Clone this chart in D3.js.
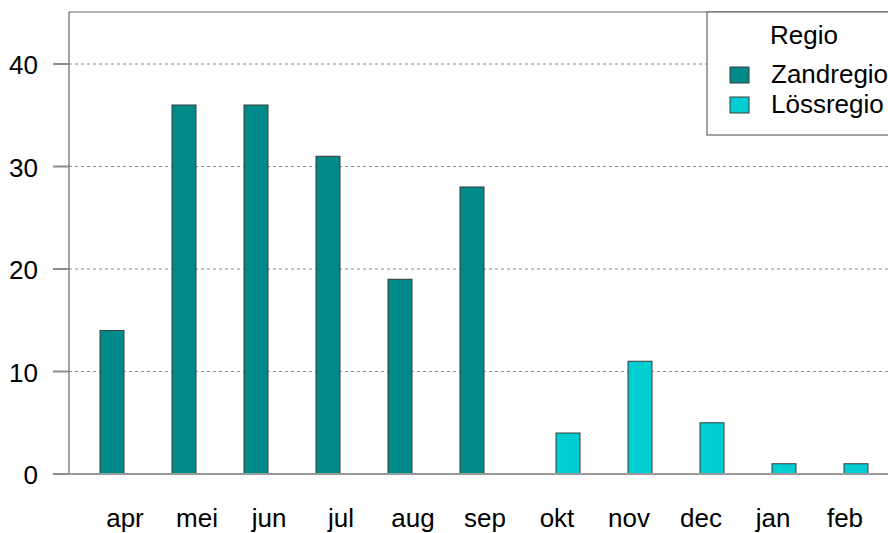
<!DOCTYPE html>
<html>
<head>
<meta charset="utf-8">
<script src="https://cdn.jsdelivr.net/npm/d3@7"></script>
<style>
  body { margin: 0; background: #fff; }
  svg { display: block; font-family: "Liberation Sans", Arial, sans-serif; }
</style>
</head>
<body>
<svg id="chart" width="888" height="533"></svg>
<script>
// data
var months = ["apr", "mei", "jun", "jul", "aug", "sep", "okt", "nov", "dec", "jan", "feb"];
var seriesNames = ["Zandregio", "Lössregio"];
var zandregio = [14, 36, 36, 31, 19, 28, null, null, null, null, null];
var lossregio = [null, null, null, null, null, null, 4, 11, 5, 1, 1];
var seriesColors = ["#008b8b", "#00ced1"];
var yTicks = [0, 10, 20, 30, 40];

var width = 888, height = 533;
var plotLeft = 69, plotTop = 12, plotBottom = 474;
var fontSize = "26px";

var svg = d3.select("#chart");

// Scales
var y = d3.scaleLinear().domain([0, 40]).range([plotBottom, 64]);
var x = d3.scaleBand().domain(months).range([88, 880]).padding(0);
var xInner = d3.scaleBand().domain(seriesNames).range([0, x.bandwidth()])
    .paddingInner(0).paddingOuter(0.5);

// Grid lines
svg.append("g")
    .selectAll("line")
    .data(yTicks.filter(function (d) { return d > 0; }))
    .enter()
    .append("line")
    .attr("x1", plotLeft)
    .attr("x2", width + 5)
    .attr("y1", function (d) { return y(d); })
    .attr("y2", function (d) { return y(d); })
    .attr("stroke", "#8c8c8c")
    .attr("stroke-width", 1)
    .attr("stroke-dasharray", "3,3");

// Plot frame (left + top)
svg.append("line")
    .attr("x1", plotLeft).attr("x2", plotLeft)
    .attr("y1", plotTop).attr("y2", plotBottom)
    .attr("stroke", "#666").attr("stroke-width", 1.2);
svg.append("line")
    .attr("x1", plotLeft).attr("x2", width + 5)
    .attr("y1", plotTop).attr("y2", plotTop)
    .attr("stroke", "#666").attr("stroke-width", 1.2);

// Bars
var rows = [];
months.forEach(function (m, i) {
    [zandregio, lossregio].forEach(function (arr, s) {
        if (arr[i] !== null) rows.push({ month: m, series: seriesNames[s], value: arr[i], color: seriesColors[s] });
    });
});

svg.append("g")
    .selectAll("rect")
    .data(rows)
    .enter()
    .append("rect")
    .attr("x", function (d) { return x(d.month) + xInner(d.series); })
    .attr("y", function (d) { return y(d.value); })
    .attr("width", xInner.bandwidth())
    .attr("height", function (d) { return y(0) - y(d.value); })
    .attr("fill", function (d) { return d.color; })
    .attr("stroke", "#3a3a3a")
    .attr("stroke-width", 1);

// X axis line
svg.append("line")
    .attr("x1", 53).attr("x2", width + 5)
    .attr("y1", plotBottom).attr("y2", plotBottom)
    .attr("stroke", "#9a9a9a").attr("stroke-width", 2);

// Y ticks and labels
var yAxis = svg.append("g");
yAxis.selectAll(".tick")
    .data(yTicks)
    .enter()
    .append("line")
    .attr("x1", 53).attr("x2", plotLeft)
    .attr("y1", function (d) { return y(d); })
    .attr("y2", function (d) { return y(d); })
    .attr("stroke", "#8c8c8c").attr("stroke-width", 2);
yAxis.selectAll("text")
    .data(yTicks)
    .enter()
    .append("text")
    .text(function (d) { return d; })
    .attr("x", 38)
    .attr("y", function (d) { return y(d); })
    .attr("dy", "0.39em")
    .style("text-anchor", "end")
    .style("font-size", fontSize)
    .attr("fill", "#000");

// X labels
svg.append("g")
    .selectAll("text")
    .data(months)
    .enter()
    .append("text")
    .text(function (d) { return d; })
    .attr("x", function (d) { return x(d) + x.bandwidth() / 2 + 1; })
    .attr("y", 527)
    .style("text-anchor", "middle")
    .style("font-size", fontSize)
    .attr("fill", "#000");

// Legend
var legend = svg.append("g");
legend.append("rect")
    .attr("x", 707).attr("y", plotTop)
    .attr("width", 200).attr("height", 135 - plotTop)
    .attr("fill", "#fff")
    .attr("stroke", "#666").attr("stroke-width", 1.2);
legend.append("text")
    .text("Regio")
    .attr("x", 770).attr("y", 44)
    .style("font-size", fontSize);
var legendItems = legend.selectAll(".item")
    .data(seriesNames)
    .enter()
    .append("g")
    .attr("transform", function (d, i) { return "translate(0," + (i * 30) + ")"; });
legendItems.append("rect")
    .attr("x", 730).attr("y", 67)
    .attr("width", 19).attr("height", 16)
    .attr("fill", function (d, i) { return seriesColors[i]; })
    .attr("stroke", "#3a3a3a").attr("stroke-width", 1);
legendItems.append("text")
    .text(function (d) { return d; })
    .attr("x", 771).attr("y", 83)
    .style("font-size", fontSize);
</script>
</body>
</html>
